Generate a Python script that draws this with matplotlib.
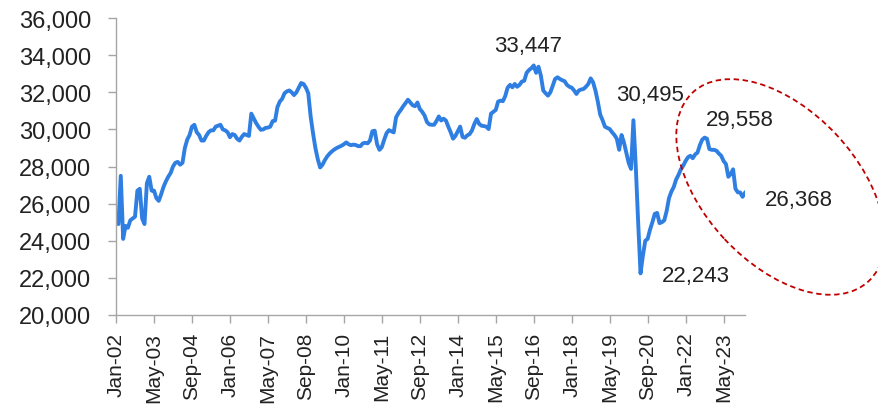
import matplotlib
matplotlib.use("Agg")
import matplotlib.pyplot as plt
from matplotlib.patches import Ellipse
from matplotlib.transforms import ScaledTranslation
import numpy as np

plt.rcParams['font.family'] = ['Liberation Sans', 'DejaVu Sans']

# Valores mensuales, ene-2002 a feb-2024
values = [
    25000, 24900, 27500, 24100, 24800, 24700, 25100, 25200, 25300, 26700, 26800, 25200,  # 2002
    24900, 27100, 27450, 26700, 26700, 26300, 26150, 26500, 26900, 27200, 27450, 27650,  # 2003
    28000, 28200, 28250, 28100, 28200, 29000, 29450, 29700, 30150, 30250, 29850, 29700,  # 2004
    29400, 29400, 29650, 29850, 29950, 29950, 30150, 30200, 30250, 30000, 29950, 29850,  # 2005
    29580, 29750, 29700, 29500, 29400, 29600, 29750, 29700, 29650, 30850, 30600, 30350,  # 2006
    30150, 29980, 30000, 30080, 30100, 30150, 30450, 30470, 31200, 31500, 31650, 31950,  # 2007
    32050, 32100, 32000, 31850, 32000, 32250, 32500, 32450, 32250, 31950, 30700, 29800,  # 2008
    29000, 28400, 27950, 28100, 28350, 28550, 28700, 28820, 28920, 29000, 29060, 29120,  # 2009
    29200, 29300, 29200, 29150, 29180, 29160, 29100, 29100, 29250, 29280, 29250, 29400,  # 2010
    29900, 29930, 29200, 28900, 29050, 29450, 29800, 29960, 29900, 29840, 30650, 30880,  # 2011
    31050, 31250, 31420, 31600, 31450, 31300, 31250, 31450, 31100, 30950, 30750, 30400,  # 2012
    30270, 30250, 30250, 30450, 30700, 30480, 30580, 30480, 30150, 29850, 29500, 29650,  # 2013
    29900, 30150, 29600, 29550, 29680, 29750, 29950, 30300, 30560, 30300, 30200, 30180,  # 2014
    30150, 30020, 30850, 30950, 31050, 31500, 31550, 31520, 31800, 32250, 32400, 32270,  # 2015
    32450, 32300, 32400, 32580, 32620, 33050, 33200, 33300, 33447, 33050, 33380, 32900,  # 2016
    32100, 31950, 31820, 32000, 32350, 32720, 32810, 32720, 32650, 32600, 32400, 32300,  # 2017
    32250, 32100, 31910, 32100, 32150, 32180, 32300, 32450, 32750, 32540, 32100, 31500,  # 2018
    30800, 30500, 30150, 30080, 30020, 29850, 29700, 29500, 28900, 29700, 29300, 28750,  # 2019
    28200, 27870, 30495, 28000, 25000, 22243, 23200, 24000, 24100, 24600, 25000, 25450,  # 2020
    25500, 24950, 25000, 25100, 25600, 26300, 26650, 26900, 27300, 27550, 27850, 28050,  # 2021
    28300, 28500, 28580, 28450, 28650, 28750, 29150, 29450, 29558, 29500, 28940, 28900,  # 2022
    28900, 28850, 28700, 28580, 28300, 28130, 27450, 27600, 27850, 26800, 26610, 26600,  # 2023
    26368, 26580,  # 2024
]

tick_labels = ["Jan-02", "May-03", "Sep-04", "Jan-06", "May-07", "Sep-08", "Jan-10",
               "May-11", "Sep-12", "Jan-14", "May-15", "Sep-16", "Jan-18", "May-19",
               "Sep-20", "Jan-22", "May-23"]

# Etiquetas de puntos destacados
labels = ["33,447", "30,495", "29,558", "26,368", "22,243"]
label_pos = [(173.5, 34510), (225, 31870), (263, 30520), (287.7, 26250), (244.5, 22120)]

x = np.arange(len(values))

fig = plt.figure(figsize=(8.79, 4.06), dpi=100)
ax = fig.add_axes([0.132, 0.2217, 0.7155, 0.7313])

ax.plot(x, values, color="#2F7FE3", linewidth=2.8, solid_joinstyle="round")

ax.set_xlim(0, len(values) - 1)
ax.set_ylim(20000, 36000)
ax.set_yticks(np.arange(20000, 36001, 2000))
ax.yaxis.set_major_formatter(matplotlib.ticker.StrMethodFormatter("{x:,.0f}"))
ax.set_xticks(np.arange(0, 16 * len(tick_labels), 16))
ax.set_xticklabels(tick_labels, rotation=90)

for side in ["top", "right"]:
    ax.spines[side].set_visible(False)
for side in ["left", "bottom"]:
    ax.spines[side].set_color("#a6a6a6")
    ax.spines[side].set_linewidth(1.0)

ax.tick_params(axis="y", direction="out", length=6, width=1, color="#a6a6a6",
               labelsize=17, labelcolor="#222222", pad=12)
ax.tick_params(axis="x", direction="out", length=6, width=1, color="#a6a6a6",
               labelsize=15, labelcolor="#222222", pad=6)

for txt, (px, py) in zip(labels, label_pos):
    ax.text(px, py, txt, ha="center", va="center", fontsize=16, color="#222222",
            clip_on=False)

# Elipse discontinua (tamaño en pulgadas, centrada en un punto de datos)
ell = Ellipse((0, 0), 2.58, 1.53, angle=-47, fill=False, edgecolor="#C00000",
              linestyle=(0, (3, 2)), linewidth=1.3,
              transform=fig.dpi_scale_trans + ScaledTranslation(280, 26900, ax.transData),
              clip_on=False)
fig.add_artist(ell)

fig.savefig("out.png", dpi=100)
